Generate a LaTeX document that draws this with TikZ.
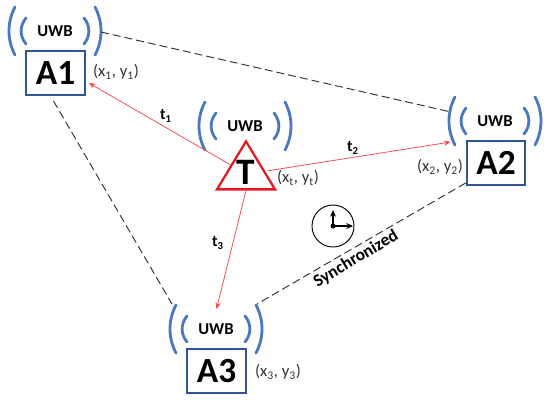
\documentclass[tikz,border=0pt]{standalone}
\usepackage{fontspec}
\setmainfont{Carlito}
\usetikzlibrary{arrows.meta,shapes.geometric}
\definecolor{fblue}{HTML}{2F5597}
\definecolor{fwave}{HTML}{4A78BE}
\definecolor{fred}{HTML}{E21B22}
\definecolor{fdash}{HTML}{303030}
\tikzset{
  uwb/.style={font=\fontsize{12.5}{12.5}\selectfont\bfseries,inner sep=0pt},
  anchorbox/.style={draw=fblue,line width=1.5pt,minimum width=44pt,minimum height=33pt,inner sep=0pt,font=\fontsize{26.5}{26.5}\selectfont\bfseries},
  wave/.style={draw=fwave,line width=2.1pt,line cap=round},
  synclink/.style={draw=fdash,line width=0.7pt,dash pattern=on 6pt off 3pt},
  rangeline/.style={draw=fred!75!white,line width=0.6pt,-{Stealth[length=5pt,width=4pt,fill=fred]}},
  coord/.style={font=\fontsize{12.5}{12.5}\selectfont,text=black!80,inner sep=0pt},
  rlabel/.style={font=\fontsize{12}{12}\selectfont\bfseries,inner sep=0pt},
}
\begin{document}
\begin{tikzpicture}[x=0.75pt,y=-0.75pt]
\useasboundingbox (0,0) rectangle (550,401);
\node[anchorbox] (A1) at (55.5,73) {A1};
\node[anchorbox] (A2) at (496,163) {A2};
\node[anchorbox] (A3) at (216.5,371) {A3};
\node[draw=fred,line width=1.7pt,isosceles triangle,isosceles triangle apex angle=62,isosceles triangle stretches,shape border rotate=90,minimum height=36pt,minimum width=43.5pt,inner sep=0pt] (tag) at (246,173) {};
\node[inner sep=0pt,font=\fontsize{28}{28}\selectfont\bfseries] (T) at (246,172) {T};
\node[uwb] (u1) at (55,31) {UWB};
\node[uwb] (u2) at (495,121) {UWB};
\node[uwb] (u3) at (216,329) {UWB};
\node[uwb] (ut) at (245,126) {UWB};
% radio waves on both sides of each label
\foreach \u in {u1,u2,u3,ut}{
  \foreach \s in {-1,1}{
    \draw[wave] ([shift={(\s*40,-24)}]\u.center) .. controls ([shift={(\s*48,-9)}]\u.center) and ([shift={(\s*48,9)}]\u.center) .. ([shift={(\s*40,24)}]\u.center);
    \draw[wave] ([shift={(\s*29,-13)}]\u.center) .. controls ([shift={(\s*35.5,-5)}]\u.center) and ([shift={(\s*35.5,5)}]\u.center) .. ([shift={(\s*29,13)}]\u.center);
  }
}
% synchronized links
\draw[synclink] ([shift={(46,1)}]u1.center) -- ([shift={(-44,-9)}]u2.center);
\draw[synclink] ([shift={(-2,5)}]A1.south) -- ([shift={(-44,-25)}]u3.center);
\draw[synclink] ([shift={(0,-3)}]A2.south west) -- ([shift={(41,-25)}]u3.center);
% ranges from the tag
\draw[rangeline] (tag.left side) -- ([shift={(3,10)}]A1.east);
\draw[rangeline] ([shift={(6,6)}]tag.right side) -- ([shift={(-15,-21)}]A2.west);
\draw[rangeline] (tag.lower side) -- ([shift={(0,-39)}]A3.north);
\node[rlabel] (t1) at (166,116) {t\textsubscript{1}};
\node[rlabel] (t2) at (353,148) {t\textsubscript{2}};
\node[rlabel] (t3) at (218,243) {t\textsubscript{3}};
\node[coord] (p1) at (116,72) {(x\textsubscript{1}, y\textsubscript{1})};
\node[coord] (p2) at (440,167) {(x\textsubscript{2}, y\textsubscript{2})};
\node[coord] (p3) at (278,372) {(x\textsubscript{3}, y\textsubscript{3})};
\node[coord] (pt) at (298,178) {(x\textsubscript{t}, y\textsubscript{t})};
\node[font=\fontsize{13}{13}\selectfont\bfseries,inner sep=0pt,rotate=31] (syn) at (356,259) {Synchronized};
% clock
\node[draw,circle,line width=0.7pt,minimum size=31.5pt,inner sep=0pt] (clock) at (333,226) {};
\fill (clock.center) circle (2.5);
\draw[line width=1.2pt,-{Stealth[length=5pt,width=4.5pt]}] (clock.center) -- ([shift={(0,-16)}]clock.center);
\draw[line width=1.2pt,-{Stealth[length=5pt,width=4.5pt]}] (clock.center) -- ([shift={(20,0)}]clock.center);
\end{tikzpicture}
\end{document}
